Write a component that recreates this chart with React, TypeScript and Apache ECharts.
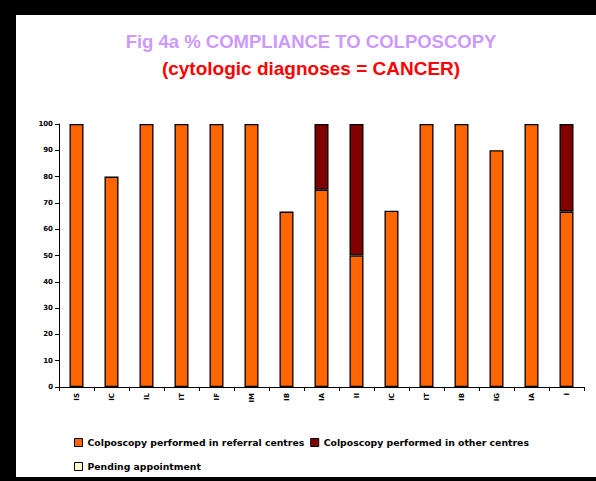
import React, { useEffect, useRef } from "react";
import * as echarts from "echarts";

const categories = ["IS", "IC", "IL", "IT", "IF", "IM", "IB", "IA", "II", "IC", "IT", "IB", "IG", "IA", "I"];
const referral = [100, 80, 100, 100, 100, 100, 66.7, 75, 50, 67, 100, 100, 90, 100, 66.7];
const other = [0, 0, 0, 0, 0, 0, 0, 25, 50, 0, 0, 0, 0, 0, 33.3];
const pending = [0, 0, 0, 0, 0, 0, 0, 0, 0, 0, 0, 0, 0, 0, 0];
const yTicks = [0, 10, 20, 30, 40, 50, 60, 70, 80, 90, 100];
const seriesNames = [
  "Colposcopy performed in referral centres",
  "Colposcopy performed in other centres",
  "Pending appointment",
];
const titleText = "Fig 4a % COMPLIANCE TO COLPOSCOPY";
const subtitleText = "(cytologic diagnoses = CANCER)";

export default function App() {
  const ref = useRef<HTMLDivElement>(null);
  useEffect(() => {
    document.body.style.margin = "0";
    const chart = echarts.init(ref.current!, null, { renderer: "svg" });
    const legendText = { fontSize: 9.3, fontWeight: "bold" as const, fontFamily: "DejaVu Sans", color: "#000" };
    chart.setOption({
      animation: false,
      backgroundColor: "#000",
      graphic: [
        { type: "rect", shape: { x: 16, y: 15, width: 580, height: 462 }, style: { fill: "#fff" }, z: -10 },
      ],
      title: [
        {
          text: titleText,
          left: 306,
          top: 27,
          textAlign: "center",
          textStyle: { fontSize: 18.5, fontWeight: "bold", fontFamily: "Liberation Sans", color: "#CC99FF" },
        },
        {
          text: subtitleText,
          left: 306,
          top: 54,
          textAlign: "center",
          textStyle: { fontSize: 19, fontWeight: "bold", fontFamily: "Liberation Sans", color: "#FF0000" },
        },
      ],
      legend: [
        {
          data: [seriesNames[0], seriesNames[1]],
          left: 69,
          top: 433,
          icon: "rect",
          itemWidth: 8,
          itemHeight: 8,
          itemGap: 6,
          textStyle: legendText,
          itemStyle: { borderColor: "#000", borderWidth: 1 },
        },
        {
          data: [seriesNames[2]],
          left: 69,
          top: 457,
          icon: "rect",
          itemWidth: 8,
          itemHeight: 8,
          textStyle: legendText,
          itemStyle: { borderColor: "#000", borderWidth: 1 },
        },
      ],
      grid: { left: 59, right: 12, top: 124, bottom: 94, containLabel: false },
      xAxis: {
        type: "category",
        data: categories,
        axisLine: { lineStyle: { color: "#000", width: 1 } },
        axisTick: { show: true, length: 4, lineStyle: { color: "#000" } },
        axisLabel: {
          rotate: 90,
          fontSize: 7,
          fontWeight: "bold",
          fontFamily: "DejaVu Sans",
          color: "#000",
          margin: 6,
          interval: 0,
        },
      },
      yAxis: {
        type: "value",
        min: 0,
        max: 100,
        interval: 10,
        axisLine: { show: true, lineStyle: { color: "#000", width: 1 } },
        axisTick: { show: true, length: 4, lineStyle: { color: "#000" } },
        splitLine: { show: false },
        axisLabel: {
          fontSize: 7,
          fontWeight: "bold",
          fontFamily: "DejaVu Sans",
          color: "#000",
          margin: 6,
          formatter: (v: number) => (yTicks.includes(v) ? String(v) : ""),
        },
      },
      series: [
        {
          name: seriesNames[0],
          type: "bar",
          stack: "a",
          data: referral,
          barWidth: 14,
          itemStyle: { color: "#FF6600", borderColor: "#000", borderWidth: 1.3 },
        },
        {
          name: seriesNames[1],
          type: "bar",
          stack: "a",
          data: other.map((v) => (v === 0 ? null : v)),
          barWidth: 14,
          itemStyle: { color: "#800000", borderColor: "#000", borderWidth: 1.3 },
        },
        {
          name: seriesNames[2],
          type: "bar",
          stack: "a",
          data: pending.map((v) => (v === 0 ? null : v)),
          barWidth: 14,
          itemStyle: { color: "#FFFFCC", borderColor: "#000", borderWidth: 1.3 },
        },
      ],
    });
    return () => chart.dispose();
  }, []);
  return <div ref={ref} style={{ position: "absolute", left: 0, top: 0, width: 596, height: 481 }} />;
}
